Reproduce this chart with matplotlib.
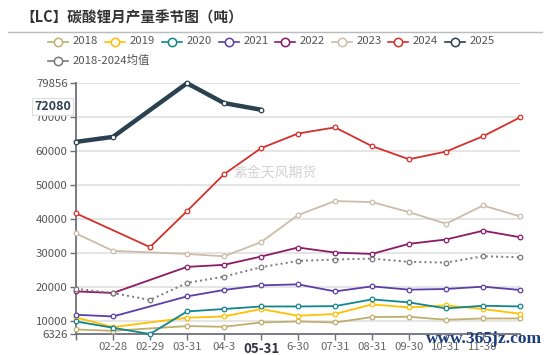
import numpy as np
import matplotlib
matplotlib.use("Agg")
import matplotlib.pyplot as plt
from matplotlib.lines import Line2D

plt.rcParams['font.family'] = ['Noto Sans CJK SC', 'DejaVu Sans']

categories = ['01-31', '02-28', '02-29', '03-31', '04-30', '05-31', '06-30',
              '07-31', '08-31', '09-30', '10-31', '11-30', '12-31']
tick_labels = ['', '02-28', '02-29', '03-31', '04-3', '05-31', '6-30',
               '07-31', '08-31', '09-30', '10-31', '11-30', '']

N = None
s2018 = [7650, 7260, N, 8650, 8440, 9700, 10000, 9700, 11290, 11380, 10500, 10880, 10880]
s2019 = [11180, 8350, N, 11090, 11470, 13650, 11680, 12180, 15000, 14120, 14700, 13650, 12260]
s2020 = [10000, 8150, 6326, 12940, 13650, 14400, 14400, 14500, 16470, 15590, 13820, 14600, 14400]
s2021 = [11970, 11470, N, 17350, 19240, 20590, 20880, 18820, 20290, 19320, 19530, 20200, 19240]
s2022 = [18820, 18350, N, 26000, 26600, 29030, 31680, 30200, 29800, 32760, 34030, 36600, 34700]
s2023 = [35800, 30700, N, 29800, 29100, 33240, 41200, 45300, 45000, 42060, 38650, 44000, 40800]
s2024 = [41700, N, 31800, 42350, 53150, 60800, 65100, 66900, 61400, 57560, 59800, 64300, 69820]
s2025 = [62650, 64120, N, 79856, 74030, 72080, N, N, N, N, N, N, N]
smean = [19600, 18350, 16300, 21300, 23150, 25900, 27760, 28150, 28440, 27470, 27260, 29120, 28820]

y_ticks = [6326, 10000, 20000, 30000, 40000, 50000, 60000, 70000, 79856]
latest_value = 72080

series = [
    ('2018', s2018, '#BFAE6E', 1.3, '-'),
    ('2019', s2019, '#FFC000', 1.3, '-'),
    ('2020', s2020, '#13868C', 1.3, '-'),
    ('2021', s2021, '#5B3FA6', 1.3, '-'),
    ('2022', s2022, '#8C1A67', 1.3, '-'),
    ('2023', s2023, '#CDBCA8', 1.3, '-'),
    ('2024', s2024, '#D4302A', 1.3, '-'),
    ('2025', s2025, '#2B4150', 3.2, '-'),
    ('2018-2024均值', smean, '#7A7A7A', 1.4, ':'),
]

W, H = 550, 355
fig = plt.figure(figsize=(W / 100, H / 100), dpi=100)
fig.patch.set_facecolor('white')

L, R, T, B = 76, 520, 83.2, 334
ax = fig.add_axes([L / W, 1 - B / H, (R - L) / W, (B - T) / H])
ax.set_xlim(0, len(categories) - 1)
ax.set_ylim(y_ticks[0], y_ticks[-1])

x = np.arange(len(categories))
order = [0, 1, 2, 3, 4, 5, 6, 8, 7]
for i in order:
    name, vals, col, lw, ls = series[i]
    v = np.array([np.nan if a is None else a for a in vals], dtype=float)
    m = ~np.isnan(v)
    ax.plot(x[m], v[m], color=col, lw=lw, ls=ls, marker='o', ms=3.3,
            mfc='white', mec=col, mew=0.9, zorder=3 + i * 0.1, clip_on=False,
            solid_capstyle='round', solid_joinstyle='round')

for yv in y_ticks[1:]:
    ax.axhline(yv, color='#E0E0E0', lw=1.2, zorder=1)

ax.set_yticks(y_ticks)
ax.set_yticklabels([str(v) for v in y_ticks])
ax.set_xticks(x)
ax.set_xticklabels(tick_labels)
for s in ['top', 'right']:
    ax.spines[s].set_visible(False)
for s in ['left', 'bottom']:
    ax.spines[s].set_color('#6E7079')
    ax.spines[s].set_linewidth(1.3)
ax.tick_params(axis='y', colors='#6E7079', labelcolor='#555555', labelsize=8.2,
               length=4, width=1, pad=2)
ax.tick_params(axis='x', colors='#6E7079', labelcolor='#666666', labelsize=8.2,
               length=4, width=1, pad=2)
lbls = ax.get_xticklabels()
lbls[5].set_fontweight('bold')
lbls[5].set_fontsize(9.5)
lbls[5].set_color('#333344')

# axis pointer label
ax.annotate(str(latest_value), xy=(0, latest_value), xycoords=('axes fraction', 'data'),
            xytext=(-5, 3), textcoords='offset pixels', ha='right', va='center',
            fontsize=9, fontweight='bold', color='#2B4150', zorder=10,
            bbox=dict(boxstyle='square,pad=0.18', fc='white', ec='#DDDDDD', lw=0.8),
            annotation_clip=False)

# title and separator
fig.text(20 / W, 1 - 18 / H, '【LC】碳酸锂月产量季节图（吨）', fontsize=10.5,
         fontweight='bold', color='#333333', ha='left', va='center')
fig.add_artist(Line2D([8 / W, 542 / W], [1 - 32 / H, 1 - 32 / H], color='#BBBBBB', lw=1.0))

# legend
pos = [(48, 41.5), (105, 41.5), (162, 41.5), (219, 41.5), (275, 41.5),
       (332, 41.5), (388, 41.5), (445, 41.5), (48, 60.7)]
for (name, vals, col, lw, ls), (px, py) in zip(series, pos):
    yy = 1 - py / H
    fig.add_artist(Line2D([px / W, (px + 20) / W], [yy, yy], color=col, lw=1.2))
    fig.add_artist(Line2D([(px + 10) / W], [yy], marker='o', ms=6.0, mfc='white',
                          mec=col, mew=1.1, lw=0))
    fig.text((px + 25) / W, yy, name, fontsize=8.2, color='#555555', ha='left', va='center')

# watermarks
fig.text(275 / W, 1 - 172.5 / H, '紫金天风期货', fontsize=10, color='#D3D3D3',
         ha='center', va='center')
fig.text(484 / W, 1 - 339 / H, 'www.365jz.com', fontsize=12.5, fontweight='bold',
         family='Liberation Serif', color='#1C3C7C', ha='center', va='center')

fig.savefig('out.png', dpi=100, facecolor='white')
